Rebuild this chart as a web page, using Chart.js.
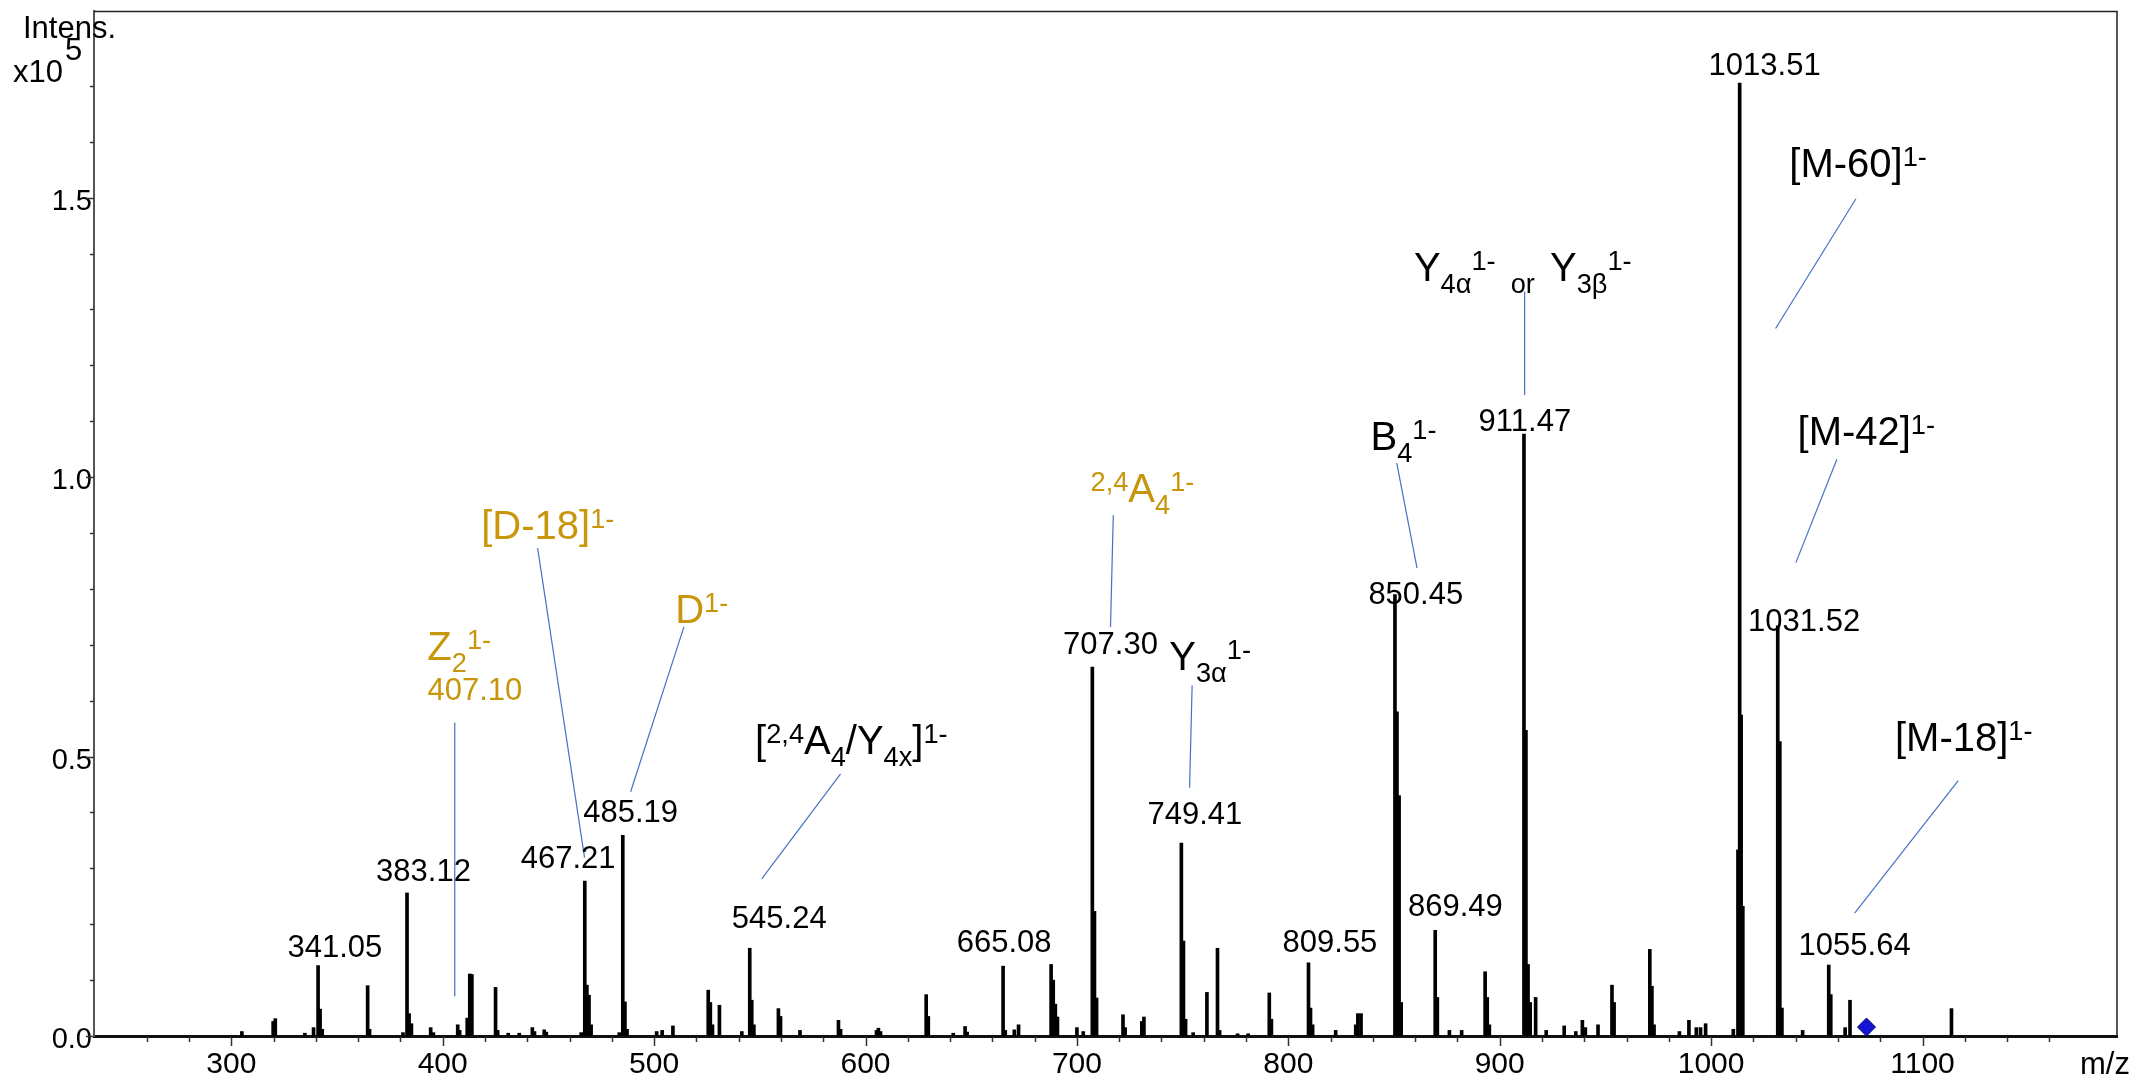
<!DOCTYPE html>
<html>
<head>
<meta charset="utf-8">
<script src="https://cdn.jsdelivr.net/npm/chart.js@4.4.1/dist/chart.umd.min.js"></script>
<style>
  html, body { margin: 0; padding: 0; background: #fff; }
  canvas { display: block; }
</style>
</head>
<body>
<canvas id="spectrum" width="2137" height="1082"></canvas>
<script>
// peak list: m/z and intensity (x10^5)
const peakMz = [
  305.0, 319.8, 320.8, 334.8, 338.9, 341.05, 342.0, 343.0, 364.5, 365.4,
  381.2, 383.12, 384.1, 385.2, 394.3, 395.6, 407.1, 408.0, 411.6, 412.8,
  413.8, 425.0, 426.0, 431.0, 436.2, 442.4, 443.4, 448.0, 449.0, 465.5,
  467.21, 468.2, 469.2, 470.2, 483.5, 485.19, 486.2, 487.2, 501.2, 503.8,
  508.9, 525.6, 526.6, 527.6, 530.9, 541.5, 545.24, 546.2, 547.2, 558.8,
  559.8, 569.0, 587.2, 588.2, 605.2, 606.1, 607.1, 628.7, 629.7, 641.5,
  647.1, 648.1, 665.08, 666.1, 670.4, 672.4, 687.8, 688.8, 689.8, 690.8,
  700.0, 703.0, 707.30, 708.3, 709.3, 721.8, 722.8, 730.7, 731.7, 749.41,
  750.4, 751.4, 755.0, 761.5, 766.5, 767.5, 776.0, 781.0, 791.0, 792.0,
  809.55, 810.5, 811.5, 822.4, 831.9, 832.9, 834.4, 850.45, 851.4, 852.4,
  853.4, 869.49, 870.5, 876.2, 882.0, 893.1, 894.1, 895.1, 911.47, 912.4,
  913.4, 914.4, 917.0, 922.0, 930.5, 936.0, 939.1, 940.5, 946.5, 953.1,
  954.1, 971.0, 972.0, 973.0, 985.0, 989.5, 993.0, 995.0, 997.4, 1010.5,
  1012.7, 1013.51, 1014.2, 1015.0, 1031.52, 1032.5, 1033.5, 1043.3, 1055.64, 1056.6,
  1063.4, 1065.7, 1113.7
];
const peakInt = [
  0.008, 0.026, 0.031, 0.005, 0.015, 0.126, 0.048, 0.012, 0.090, 0.012,
  0.006, 0.256, 0.040, 0.022, 0.015, 0.006, 0.020, 0.010, 0.032, 0.111,
  0.110, 0.087, 0.010, 0.005, 0.005, 0.015, 0.008, 0.011, 0.007, 0.006,
  0.277, 0.091, 0.073, 0.020, 0.006, 0.359, 0.061, 0.012, 0.008, 0.010,
  0.018, 0.082, 0.060, 0.020, 0.055, 0.008, 0.157, 0.064, 0.020, 0.049,
  0.035, 0.010, 0.028, 0.012, 0.010, 0.014, 0.008, 0.074, 0.035, 0.005,
  0.017, 0.007, 0.125, 0.010, 0.011, 0.020, 0.128, 0.100, 0.057, 0.034,
  0.015, 0.008, 0.660, 0.223, 0.068, 0.038, 0.015, 0.026, 0.034, 0.345,
  0.170, 0.030, 0.006, 0.078, 0.157, 0.010, 0.004, 0.004, 0.077, 0.030,
  0.131, 0.050, 0.020, 0.010, 0.020, 0.040, 0.040, 0.790, 0.580, 0.430,
  0.060, 0.189, 0.069, 0.010, 0.010, 0.115, 0.069, 0.020, 1.077, 0.547,
  0.128, 0.060, 0.069, 0.010, 0.018, 0.008, 0.028, 0.015, 0.020, 0.091,
  0.060, 0.155, 0.089, 0.020, 0.008, 0.028, 0.015, 0.015, 0.022, 0.012,
  0.333, 1.705, 0.574, 0.232, 0.734, 0.527, 0.050, 0.010, 0.127, 0.074,
  0.015, 0.064, 0.049
];

// precursor marker (blue diamond)
const markerMz = [1073.5];
const markerInt = [0.016];

// axis ranges
const mzMin = 235.05, mzMax = 1192.0;
const intMax = 1.834;

// m/z labels printed above peaks (text centre position)
const labelText = ["341.05", "383.12", "407.10", "467.21", "485.19", "545.24", "665.08", "707.30",
  "749.41", "809.55", "850.45", "869.49", "911.47", "1013.51", "1031.52", "1055.64"];
const labelMz = [349.0, 390.9, 415.2, 459.3, 488.9, 559.2, 665.6, 715.9,
  755.8, 819.7, 860.3, 879.0, 911.9, 1025.3, 1044.0, 1067.9];
const labelInt = [0.161, 0.298, 0.621, 0.320, 0.403, 0.213, 0.171, 0.703,
  0.400, 0.171, 0.793, 0.234, 1.103, 1.739, 0.744, 0.164];
const labelGold = [false, false, true, false, false, false, false, false,
  false, false, false, false, false, false, false, false];

// fragment assignments: text pieces [text, "sub"|"sup"], centre, leader line
const annoSegs = [
  [["Z"], ["2", "sub"], ["1-", "sup"]],
  [["[D-18]"], ["1-", "sup"]],
  [["D"], ["1-", "sup"]],
  [["["], ["2,4", "sup"], ["A"], ["4", "sub"], ["/Y"], ["4x", "sub"], ["]"], ["1-", "sup"]],
  [["2,4", "sup"], ["A"], ["4", "sub"], ["1-", "sup"]],
  [["Y"], ["3\u03b1", "sub"], ["1-", "sup"]],
  [["B"], ["4", "sub"], ["1-", "sup"]],
  [["Y"], ["4\u03b1", "sub"], ["1-", "sup"], ["  or  ", "sub"], ["Y"], ["3\u03b2", "sub"], ["1-", "sup"]],
  [["[M-60]"], ["1-", "sup"]],
  [["[M-42]"], ["1-", "sup"]],
  [["[M-18]"], ["1-", "sup"]]
];
const annoGold = [true, true, true, false, true, false, false, false, false, false, false];
const annoMz = [407.8, 449.7, 522.5, 593.3, 731.0, 763.0, 854.5, 910.9, 1069.5, 1073.4, 1119.5];
const annoInt = [0.698, 0.914, 0.764, 0.530, 0.981, 0.681, 1.074, 1.376, 1.563, 1.083, 0.535];
const leadFromMz = [405.7, 444.9, 514.1, 588.2, 717.2, 754.5, 851.3, 911.8, 1068.5, 1059.5, 1116.9];
const leadFromInt = [0.561, 0.873, 0.732, 0.469, 0.932, 0.627, 1.025, 1.332, 1.498, 1.032, 0.457];
const leadToMz = [405.7, 467.1, 488.9, 550.9, 715.9, 753.3, 860.9, 911.8, 1030.5, 1040.1, 1067.9];
const leadToInt = [0.071, 0.319, 0.437, 0.281, 0.732, 0.444, 0.837, 1.147, 1.266, 0.847, 0.220];

const FONT = '"Liberation Sans", Arial, sans-serif';
const GOLD = "#C8960A";
const LEADER = "#4472C4";

function isMultiple(v, step) {
  return Math.abs(v / step - Math.round(v / step)) < 1e-6;
}

function drawRich(ctx, segs, cx, cy, size, color) {
  const parts = segs.map(s => {
    const kind = s[1] || "n";
    const fs = kind === "n" ? size : size * 0.68;
    ctx.font = fs + "px " + FONT;
    return { text: s[0], kind, fs, w: ctx.measureText(s[0]).width };
  });
  const total = parts.reduce((a, p) => a + p.w, 0);
  let x = cx - total / 2;
  const base = cy + size * 0.358;
  ctx.fillStyle = color;
  ctx.textAlign = "left";
  ctx.textBaseline = "alphabetic";
  parts.forEach(p => {
    ctx.font = p.fs + "px " + FONT;
    let y = base;
    if (p.kind === "sub") y += size * 0.3;
    if (p.kind === "sup") y -= size * 0.28;
    ctx.fillText(p.text, x, y);
    x += p.w;
  });
}

const decor = {
  id: "decor",
  afterDraw(chart) {
    const ctx = chart.ctx;
    const xs = chart.scales.x, ys = chart.scales.y;
    const area = chart.chartArea;
    ctx.save();

    // frame top and right
    ctx.strokeStyle = "#222";
    ctx.lineWidth = 1.5;
    ctx.beginPath();
    ctx.moveTo(area.left, area.top + 0.5);
    ctx.lineTo(area.right, area.top + 0.5);
    ctx.lineTo(area.right, area.bottom);
    ctx.stroke();

    // tick marks
    ctx.strokeStyle = "#333";
    ctx.lineWidth = 1.5;
    xs.ticks.forEach(t => {
      const x = Math.round(xs.getPixelForValue(t.value)) + 0.5;
      const len = isMultiple(t.value, 100) ? 9 : 5;
      ctx.beginPath();
      ctx.moveTo(x, area.bottom + 1);
      ctx.lineTo(x, area.bottom + 1 + len);
      ctx.stroke();
    });
    ys.ticks.forEach(t => {
      const y = Math.round(ys.getPixelForValue(t.value)) + 0.5;
      const len = isMultiple(t.value, 0.5) ? 8 : 4;
      ctx.beginPath();
      ctx.moveTo(area.left - len, y);
      ctx.lineTo(area.left, y);
      ctx.stroke();
    });

    // leader lines
    ctx.strokeStyle = LEADER;
    ctx.lineWidth = 1.2;
    leadFromMz.forEach((m, i) => {
      ctx.beginPath();
      ctx.moveTo(xs.getPixelForValue(m), ys.getPixelForValue(leadFromInt[i]));
      ctx.lineTo(xs.getPixelForValue(leadToMz[i]), ys.getPixelForValue(leadToInt[i]));
      ctx.stroke();
    });

    // peak m/z labels
    ctx.textAlign = "center";
    ctx.textBaseline = "alphabetic";
    ctx.font = "31px " + FONT;
    labelText.forEach((txt, i) => {
      ctx.fillStyle = labelGold[i] ? GOLD : "#000";
      ctx.fillText(txt, xs.getPixelForValue(labelMz[i]), ys.getPixelForValue(labelInt[i]) + 31 * 0.358);
    });

    // assignments
    annoSegs.forEach((segs, i) => {
      drawRich(ctx, segs, xs.getPixelForValue(annoMz[i]), ys.getPixelForValue(annoInt[i]), 40,
        annoGold[i] ? GOLD : "#000");
    });

    // axis captions
    ctx.fillStyle = "#000";
    ctx.textAlign = "left";
    ctx.font = "31px " + FONT;
    ctx.fillText("Intens.", 23, 38);
    ctx.fillText("x10", 13, 82);
    ctx.fillText("5", 65, 60);
    ctx.fillText("m/z", 2080, 1074);
    ctx.restore();
  }
};

const ctx = document.getElementById("spectrum").getContext("2d");
const chart = new Chart(ctx, {
  type: "bar",
  data: {
    datasets: [
      {
        type: "scatter",
        data: markerMz.map((m, i) => ({ x: m, y: markerInt[i] })),
        pointStyle: "rectRot",
        pointRadius: 9,
        backgroundColor: "#1414d2",
        borderColor: "#00006e",
        borderWidth: 1,
        order: 0
      },
      {
        type: "bar",
        data: peakMz.map((m, i) => ({ x: m, y: peakInt[i] })),
        backgroundColor: "#000",
        borderWidth: 0,
        barThickness: 3,
        grouped: false,
        order: 1
      }
    ]
  },
  options: {
    responsive: false,
    animation: false,
    devicePixelRatio: 1,
    layout: { padding: { left: 0, top: 11, right: 20, bottom: 0 } },
    plugins: { legend: { display: false }, tooltip: { enabled: false } },
    scales: {
      x: {
        type: "linear",
        min: mzMin,
        max: mzMax,
        offset: false,
        grid: { display: true, drawOnChartArea: false, drawTicks: false, offset: false },
        border: { display: true, color: "#111", width: 3 },
        ticks: {
          stepSize: 20,
          autoSkip: false,
          maxRotation: 0,
          padding: 11,
          color: "#000",
          font: { family: FONT, size: 30 },
          callback: v => isMultiple(v, 100) ? String(v) : ""
        },
        afterBuildTicks: s => { s.ticks = s.ticks.filter(t => isMultiple(t.value, 20)); },
        afterFit: s => { s.height = 46; s.paddingLeft = 0; s.paddingRight = 0; }
      },
      y: {
        min: 0,
        max: intMax,
        grid: { display: true, drawOnChartArea: false, drawTicks: false },
        border: { display: true, color: "#555", width: 2 },
        ticks: {
          stepSize: 0.1,
          autoSkip: false,
          padding: 2,
          labelOffset: 4,
          color: "#000",
          font: { family: FONT, size: 29 },
          callback: v => isMultiple(v, 0.5) ? v.toFixed(1) : ""
        },
        afterBuildTicks: s => { s.ticks = s.ticks.filter(t => isMultiple(t.value, 0.1)); },
        afterFit: s => { s.width = 94; s.paddingTop = 0; s.paddingBottom = 0; }
      }
    }
  },
  plugins: [decor]
});
</script>
</body>
</html>
